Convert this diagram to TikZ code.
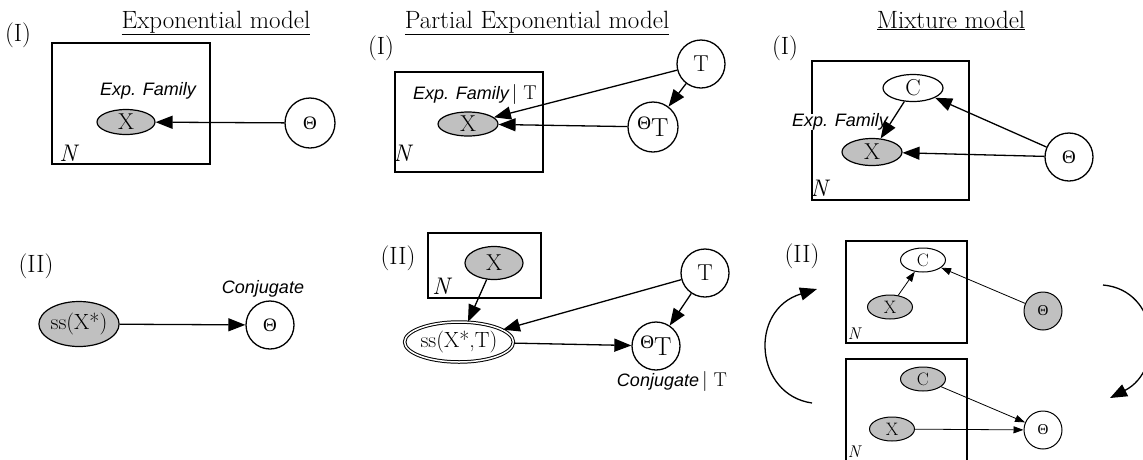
\documentclass[tikz,border=0pt]{standalone}
\usepackage{fontspec}
\setsansfont{Liberation Sans}
\newfontfamily\grk{Liberation Serif}
\usetikzlibrary{shapes.geometric,arrows.meta}
\definecolor{nodegray}{RGB}{192,192,192}
\tikzset{
  lbl/.style={font=\fontsize{25}{28}\selectfont, inner sep=0},
  ttl/.style={font=\fontsize{25}{28}\selectfont, inner sep=0, anchor=base},
  plate/.style={draw, line width=1.8pt, inner sep=0, rectangle},
  obs/.style={ellipse, draw, fill=nodegray, line width=1.2pt, inner sep=0, font=\fontsize{23}{24}\selectfont},
  hid/.style={ellipse, draw, fill=white, line width=1.2pt, inner sep=0, font=\fontsize{23}{24}\selectfont},
  par/.style={circle, draw, fill=white, line width=1.3pt, inner sep=0, font=\fontsize{23}{24}\selectfont},
  sobs/.style={obs, line width=1pt, minimum width=45pt, minimum height=24pt, font=\fontsize{18}{19}\selectfont},
  shid/.style={hid, line width=1pt, minimum width=45pt, minimum height=24pt, font=\fontsize{18}{19}\selectfont},
  spar/.style={par, line width=1pt, minimum size=38pt, font=\fontsize{18}{19}\selectfont},
  arr/.style={-{Triangle[length=17pt,width=13pt]}, line width=1.3pt},
  sarr/.style={-{Triangle[length=10pt,width=7pt]}, line width=0.8pt},
  ann/.style={font=\sffamily\itshape\fontsize{18}{20}\selectfont, inner sep=0},
  nlab/.style={font=\itshape\fontsize{24}{26}\selectfont, inner sep=0},
  snlab/.style={font=\itshape\fontsize{17}{18}\selectfont, inner sep=0},
}
\newcommand{\Th}[1]{{\grk\fontsize{#1}{#1}\selectfont Θ}}
\newcommand{\thT}[2]{\Th{#1}\raisebox{-7pt}{\fontsize{#2}{#2}\selectfont T}}
\begin{document}
\begin{tikzpicture}[x=1pt,y=-1pt]
\useasboundingbox (0,0) rectangle (1143,459);
\clip (0,0) rectangle (1143,459);

% titles
\node[ttl] (t1) at (216,28) {\underline{Exponential model}};
\node[ttl] (t2) at (537,28) {\underline{Partial Exponential model}};
\node[ttl] (t3) at (951,28) {\underline{Mixture model}};

% ---------- Exponential model (I)
\node[lbl] (i1) at (18,35) {(I)};
\node[plate, minimum width=158pt, minimum height=121pt] (pl1) at (131,103.5) {};
\node[ann] (ef1) at (148,91) {Exp. Family};
\node[obs, minimum width=58pt, minimum height=25pt] (x1) at (126,122) {X};
\node[par, minimum size=50pt] (th1) at (310,123) {\Th{19}};
\node[nlab] (n1) at (68,153) {N};
\draw[arr] (th1) -- (x1);

% ---------- Exponential model (II)
\node[lbl] (ii1) at (36,266) {(II)};
\node[obs, minimum width=70pt, minimum height=45pt, font=\fontsize{22}{24}\selectfont] (ss1) at (79,324) {ss(X*)};
\node[par, minimum size=48pt] (th2) at (270,325) {\Th{19}};
\node[ann] (cj1) at (263,289) {Conjugate};
\draw[arr] (ss1) -- (th2);

% ---------- Partial exponential (I)
\node[lbl] (i2) at (381,48) {(I)};
\node[plate, minimum width=148pt, minimum height=100pt] (pl2) at (469,122) {};
\node[ann] (ef2) at (475,94) {Exp. Family\,{\normalfont\upshape\fontsize{20}{22}\selectfont| T}};
\node[obs, minimum width=60pt, minimum height=24pt] (x2) at (468,124) {X};
\node[par, minimum size=48pt] (T2) at (701,64) {T};
\node[par, minimum size=50pt] (tt2) at (653,127) {\thT{19}{26}};
\node[nlab] (n2) at (402,153) {N};
\draw[arr] (T2) -- (x2);
\draw[arr] (T2) -- (tt2);
\draw[arr] (tt2) -- (x2);

% ---------- Partial exponential (II)
\node[lbl] (ii2) at (398,258) {(II)};
\node[plate, minimum width=113pt, minimum height=65pt] (pl4) at (484.5,265.5) {};
\node[obs, minimum width=58pt, minimum height=33pt] (x4) at (494,263) {X};
\node[nlab] (n4) at (441,286) {N};
\node[ellipse, draw, fill=white, double, double distance=1.5pt, line width=1pt, inner sep=0,
      minimum width=94pt, minimum height=40pt, font=\fontsize{22}{24}\selectfont] (ss2) at (459,342) {ss(X*,T)};
\node[par, minimum size=48pt] (T4) at (705,273) {T};
\node[par, minimum size=48pt] (tt4) at (656,346) {\thT{19}{26}};
\node[ann] (cj2) at (672,381) {Conjugate\,{\normalfont\upshape\fontsize{20}{22}\selectfont| T}};
\draw[arr] (x4) -- (ss2);
\draw[arr] (T4) -- (ss2);
\draw[arr] (T4) -- (tt4);
\draw[arr] (ss2) -- (tt4);

% ---------- Mixture (I)
\node[lbl] (i3) at (785,48) {(I)};
\node[plate, minimum width=157pt, minimum height=139pt] (pl3) at (890.5,130.5) {};
\node[hid, minimum width=60pt, minimum height=27pt] (c3) at (913,88) {C};
\node[ann, fill=white] (ef3) at (840,122) {Exp. Family};
\node[obs, minimum width=60pt, minimum height=27pt] (x3) at (872,152) {X};
\node[par, minimum size=48pt] (th3) at (1069,157) {\Th{19}};
\node[nlab] (n3) at (819,188) {N};
\draw[arr] (c3) -- (x3);
\draw[arr] (th3) -- (c3);
\draw[arr] (th3) -- (x3);

% ---------- Mixture (II)
\node[lbl] (ii3) at (802,256) {(II)};
\node[plate, minimum width=121pt, minimum height=102pt] (pl5) at (906.5,292) {};
\node[shid] (c5) at (923,260) {C};
\node[sobs] (x5) at (890,307) {X};
\node[spar, fill=nodegray] (th5) at (1043,311) {\Th{15}};
\node[snlab] (n5) at (854,334) {N};
\draw[sarr] (x5) -- (c5);
\draw[sarr] (th5) -- (c5);

\node[plate, minimum width=121pt, minimum height=120pt] (pl6) at (906.5,419) {};
\node[sobs] (c6) at (923,379) {C};
\node[sobs] (x6) at (892,429) {X};
\node[spar] (th6) at (1043,430) {\Th{15}};
\node[snlab] (n6) at (854,452) {N};
\draw[sarr] (c6) -- (th6);
\draw[sarr] (x6) -- (th6);

% cycle arrows
\coordinate (lb) at (812,403);
\coordinate (lt) at (817,289);
\coordinate (rt) at (1103,285);
\coordinate (rb) at (1110,398);
\draw[arr] (lb) .. controls (755,395) and (748,310) .. (lt);
\draw[arr] (rt) .. controls (1160,290) and (1165,370) .. (rb);
\end{tikzpicture}
\end{document}
